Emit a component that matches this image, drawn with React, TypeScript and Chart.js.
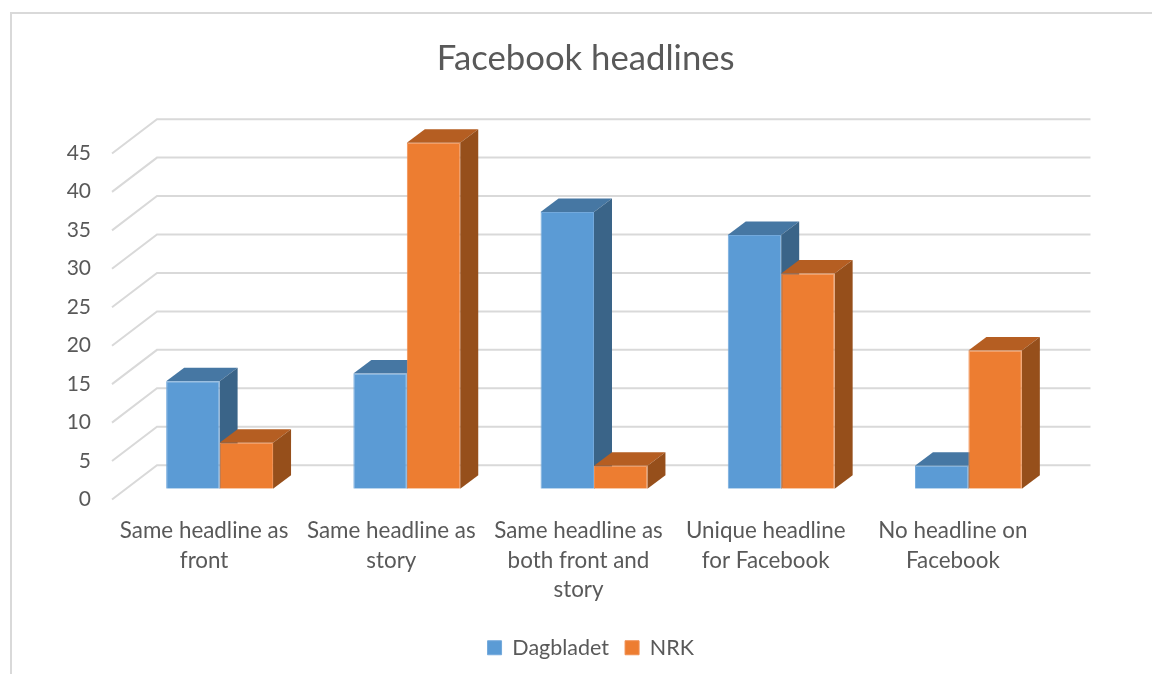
import React, { useEffect, useRef } from "react";
import { Chart, registerables } from "chart.js";

Chart.register(...registerables);

const categories = [
  ["Same headline as", "front"],
  ["Same headline as", "story"],
  ["Same headline as", "both front and", "story"],
  ["Unique headline", "for Facebook"],
  ["No headline on", "Facebook"],
];
const dagbladet = [14, 15, 36, 33, 3];
const nrk = [6, 45, 3, 28, 18];
const gridValues = [0, 5, 10, 15, 20, 25, 30, 35, 40, 45];

const TEXT = "#595959";
const GRID = "#d9d9d9";
const FONT = "Lato";

// Offsets that give the flat bars their extruded look, in canvas pixels.
const BAR_DEPTH = { x: 18, y: -13.5 };
const WALL_FRONT = { x: -14, y: 10.7 };
const WALL_BACK = { left: 31, right: 28.5, y: -23.6 };

const faceColours = [
  { top: "#4677a3", side: "#3a6488" },
  { top: "#b55e22", side: "#964f1b" },
];

function fillPoly(ctx: CanvasRenderingContext2D, pts: number[][], colour: string) {
  ctx.beginPath();
  pts.forEach(([x, y], i) => (i ? ctx.lineTo(x, y) : ctx.moveTo(x, y)));
  ctx.closePath();
  ctx.fillStyle = colour;
  ctx.fill();
}

// Back wall and side wall gridlines, then the top and side of every bar.
const depthPlugin = {
  id: "depth",
  afterLayout(chart: any) {
    // The legend sits slightly right of the title's centre line.
    chart.legend.left += 5;
    chart.legend.right += 5;
    // Widen the y axis box so its labels are not clipped by the left padding.
    chart.scales.y.left = 0;
  },
  beforeDatasetsDraw(chart: any) {
    const { ctx, scales, chartArea } = chart;
    ctx.save();
    ctx.strokeStyle = GRID;
    ctx.lineWidth = 2;
    for (const v of gridValues) {
      const y = scales.y.getPixelForValue(v);
      ctx.beginPath();
      ctx.moveTo(chartArea.left + WALL_FRONT.x, y + WALL_FRONT.y);
      ctx.lineTo(chartArea.left + WALL_BACK.left, y + WALL_BACK.y);
      ctx.lineTo(chartArea.right + WALL_BACK.right, y + WALL_BACK.y);
      ctx.stroke();
    }
    chart.data.datasets.forEach((_: unknown, d: number) => {
      const colours = faceColours[d];
      chart.getDatasetMeta(d).data.forEach((bar: any) => {
        const left = bar.x - bar.width / 2;
        const right = bar.x + bar.width / 2;
        const { x: dx, y: dy } = BAR_DEPTH;
        fillPoly(ctx, [[left, bar.y], [left + dx, bar.y + dy], [right + dx, bar.y + dy], [right, bar.y]], colours.top);
        fillPoly(ctx, [[right, bar.y], [right + dx, bar.y + dy], [right + dx, bar.base + dy], [right, bar.base]], colours.side);
      });
    });
    ctx.restore();
  },
};

export default function App() {
  const ref = useRef<HTMLCanvasElement>(null);
  useEffect(() => {
    const chart = new Chart(ref.current!, {
      type: "bar",
      data: {
        labels: categories,
        datasets: [
          { label: "Dagbladet", data: dagbladet, backgroundColor: "#5b9bd5", borderColor: "#73a9dc", borderWidth: 1 },
          { label: "NRK", data: nrk, backgroundColor: "#ed7d31", borderColor: "#f08f50", borderWidth: 1 },
        ],
      },
      options: {
        animation: false,
        responsive: false,
        categoryPercentage: 0.571,
        barPercentage: 1,
        layout: { padding: { left: 109.5, right: 90, top: 0, bottom: 5.5 } },
        plugins: {
          title: {
            display: true,
            text: "Facebook headlines",
            color: TEXT,
            font: { family: FONT, size: 34.7, weight: "normal" },
            padding: { top: 38.2, bottom: 62.9 },
          },
          legend: {
            position: "bottom",
            labels: {
              color: TEXT,
              font: { family: FONT, size: 21.5 },
              boxWidth: 14,
              boxHeight: 14,
              padding: 16,
            },
          },
          tooltip: { enabled: false },
        },
        scales: {
          x: {
            grid: { display: false, drawTicks: false },
            border: { display: false },
            afterFit(scale: any) {
              scale.height = 132.2;
            },
            ticks: {
              color: TEXT,
              font: { family: FONT, size: 22.4, lineHeight: 1.326 },
              maxRotation: 0,
              autoSkip: false,
              padding: 27,
              labelOffset: -15.5,
            },
          },
          y: {
            min: 0,
            max: 45,
            grid: { display: false, drawTicks: false },
            border: { display: false },
            afterFit(scale: any) {
              scale.width = 16.5;
            },
            ticks: {
              color: TEXT,
              font: { family: FONT, size: 21 },
              stepSize: 5,
              padding: 35,
              labelOffset: 10.5,
            },
          },
        },
      } as any,
      plugins: [depthPlugin],
    });
    return () => chart.destroy();
  }, []);
  return (
    <div style={{ position: "fixed", inset: 0, background: "#fff", overflow: "hidden" }}>
      <div style={{ position: "absolute", left: 9.5, top: 12, right: 0, bottom: 0, borderLeft: `2px solid ${GRID}`, borderTop: `2px solid ${GRID}` }} />
      <canvas ref={ref} width={1152} height={674} style={{ position: "absolute", left: 0, top: 0 }} />
    </div>
  );
}
